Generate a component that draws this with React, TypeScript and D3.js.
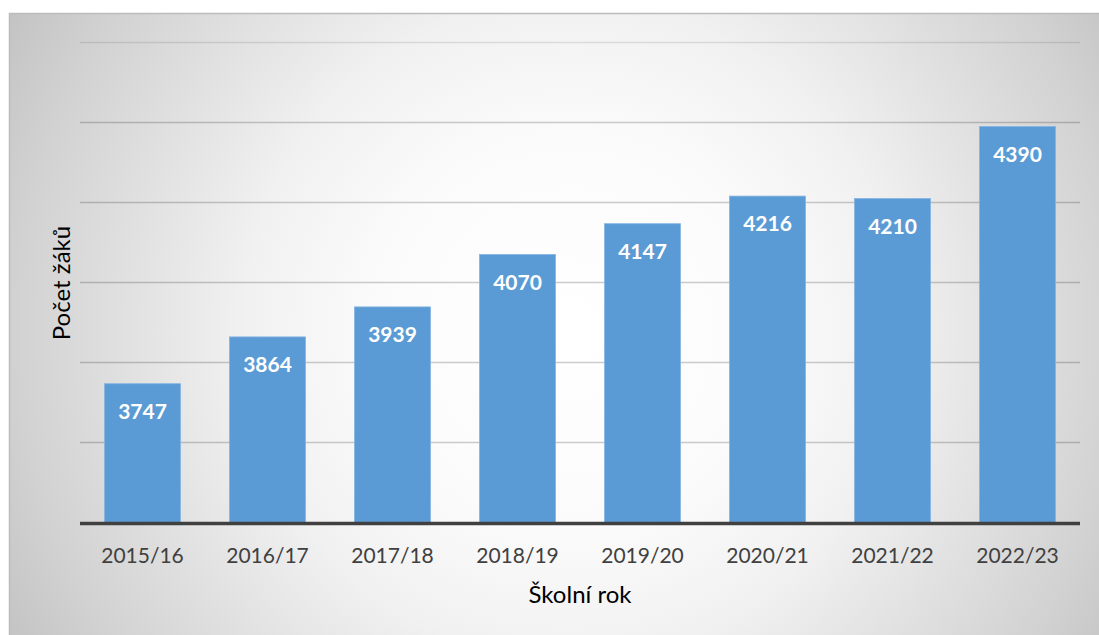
import React from "react";
import * as d3 from "d3";

const categories = ["2015/16", "2016/17", "2017/18", "2018/19", "2019/20", "2020/21", "2021/22", "2022/23"];
const values = [3747, 3864, 3939, 4070, 4147, 4216, 4210, 4390];
const gridTicks = [3600, 3800, 4000, 4200, 4400, 4600];
const yTitle = "Počet žáků";
const xTitle = "Školní rok";

export default function App() {
  const W = 1099, H = 635;
  const left = 80, right = 1080, top = 42.5, bottom = 522.5;
  const x = d3.scaleBand<string>().domain(categories).range([left, right]).paddingInner(0.392).paddingOuter(0.196);
  const y = d3.scaleLinear().domain([3400, 4600]).range([bottom, top]);
  const font = "Lato, 'Open Sans', sans-serif";
  return (
    <svg width={W} height={H} style={{ position: "absolute", left: 0, top: 0 }}>
      <defs>
        <radialGradient id="bg" cx={570} cy={330} r={650} gradientUnits="userSpaceOnUse">
          <stop offset="0" stopColor="#ffffff" />
          <stop offset="0.3" stopColor="#fbfbfb" />
          <stop offset="0.5" stopColor="#f1f1f1" />
          <stop offset="0.85" stopColor="#d2d2d2" />
          <stop offset="1" stopColor="#c2c2c2" />
        </radialGradient>
      </defs>
      <rect x={9.5} y={13.5} width={1095} height={630} fill="url(#bg)" stroke="#bcbcbc" strokeWidth={1.5} />
      {gridTicks.map((t, i) => (
        <line key={t} x1={left} x2={right} y1={y(t)} y2={y(t)} stroke="#000000" strokeOpacity={i === gridTicks.length - 1 ? 0.1 : 0.2} strokeWidth={1.5} />
      ))}
      {categories.map((c, i) => (
        <g key={c}>
          <rect x={x(c)} y={y(values[i])} width={x.bandwidth()} height={bottom - y(values[i])} fill="#5b9bd5" stroke="#86b4e2" strokeWidth={0.8} />
          <text x={x(c)! + x.bandwidth() / 2} y={y(values[i]) + 35} textAnchor="middle" fill="#ffffff" fontFamily={font} fontWeight={700} fontSize={21}>
            {values[i]}
          </text>
          <text x={x(c)! + x.bandwidth() / 2} y={563} textAnchor="middle" fill="#404040" fontFamily={font} fontSize={21}>
            {c}
          </text>
        </g>
      ))}
      <line x1={left} x2={right} y1={bottom + 1} y2={bottom + 1} stroke="#404040" strokeWidth={3.5} />
      <text x={580} y={603} textAnchor="middle" fill="#000000" fontFamily={font} fontSize={24}>
        {xTitle}
      </text>
      <text transform={`translate(70,${283}) rotate(-90)`} textAnchor="middle" fill="#000000" fontFamily={font} fontSize={24}>
        {yTitle}
      </text>
    </svg>
  );
}
